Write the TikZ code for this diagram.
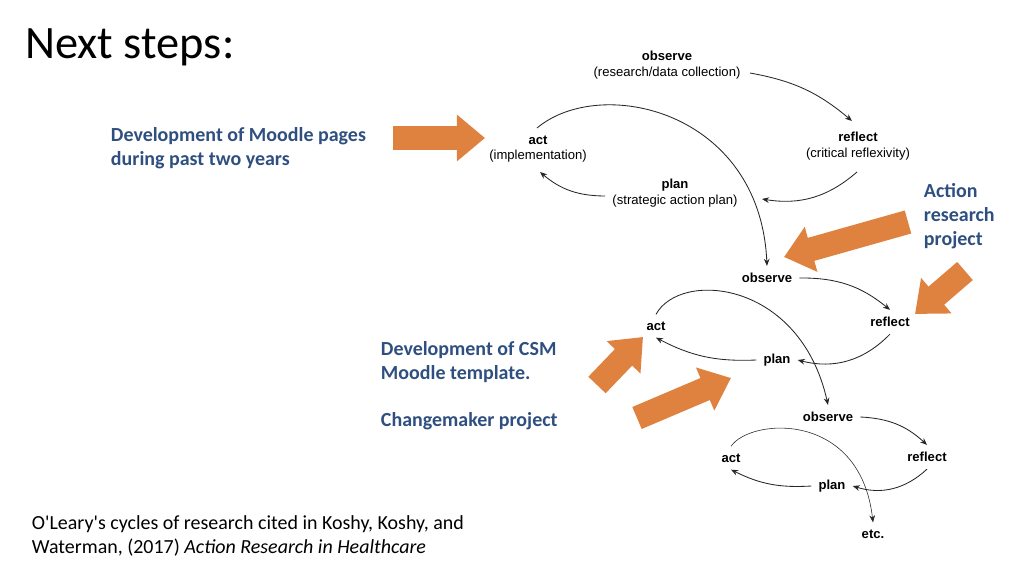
\documentclass[tikz,border=0pt]{standalone}
\usepackage{fontspec}
\setmainfont{Carlito}[Ligatures=TeXOff]
\newfontfamily\diag{Liberation Sans}
\usetikzlibrary{arrows.meta}
\definecolor{boxorange}{HTML}{E0823F}
\definecolor{noteblue}{HTML}{2E4F7F}
\begin{document}
\begin{tikzpicture}[x=0.025cm, y=-0.025cm,
    stage/.style={font=\diag\bfseries\fontsize{9.3}{10}\selectfont, inner sep=1pt, align=center},
    gap/.style={stage, inner sep=5pt},
    note/.style={font=\bfseries\fontsize{14.2}{17}\selectfont, text=noteblue, align=left, anchor=west},
    cyc/.style={-{Stealth[length=5pt,width=4pt]}, line width=0.6pt, black!85},
    big/.style={draw=boxorange, line width=17pt, -{Triangle[length=20pt,width=32pt]}}]
    \useasboundingbox (0,0) rectangle (1024,572);
    \node[anchor=west, inner sep=0pt, font=\fontsize{33}{36}\selectfont] (title) at (25,47) {Next steps:};

    % first cycle
    \node[stage] (obs1) at (667,65) {observe\\[1pt]{\mdseries(research/data collection)}};
    \node[stage] (act1) at (538,149) {act\\[1pt]{\mdseries(implementation)}};
    \node[stage] (ref1) at (858,146) {reflect\\[1pt]{\mdseries(critical reflexivity)}};
    \node[stage] (pln1) at (675,193) {plan\\[1pt]{\mdseries(strategic action plan)}};
    \coordinate (o1e) at (750,73); \coordinate (r1n) at (852,121);
    \coordinate (r1s) at (857,172); \coordinate (p1e) at (762,199);
    \coordinate (p1w) at (605,196); \coordinate (a1s) at (540,172);
    \coordinate (a1n) at (537,128);
    \draw[cyc] (o1e) to[bend left=15] (r1n);
    \draw[cyc] (r1s) to[bend left=25] (p1e);
    \draw[cyc] (p1w) to[bend left=20] (a1s);

    % second cycle
    \node[gap] (obs2) at (767,278) {observe};
    \node[gap] (act2) at (656,326) {act};
    \node[gap] (ref2) at (890,322) {reflect};
    \node[gap] (pln2) at (777,360) {plan};
    \draw[cyc] (a1n) .. controls (600,75) and (760,110) .. (obs2.north);
    \draw[cyc] (obs2.east) to[bend left=20] (ref2.north);
    \draw[cyc] (ref2.south) to[bend left=30] (pln2.east);
    \draw[cyc] (pln2.west) to[bend left=15] (act2.south);

    % third cycle
    \node[gap] (obs3) at (828,417) {observe};
    \node[gap] (act3) at (731,458) {act};
    \node[gap] (ref3) at (927,457) {reflect};
    \node[gap] (pln3) at (832,486) {plan};
    \node[gap] (etc) at (873,534) {etc.};
    \draw[cyc] (act2.north) .. controls (680,270) and (800,280) .. (obs3.north);
    \draw[cyc] (obs3.east) to[bend left=20] (ref3.north);
    \draw[cyc] (ref3.south) to[bend left=30] (pln3.east);
    \draw[cyc] (pln3.west) to[bend left=15] (act3.south);
    \draw[cyc, line width=0.4pt] (act3.north) .. controls (750,418) and (860,410) .. (etc.north);

    % notes
    \node[note] (moodle) at (106,148) {Development of Moodle pages\\during past two years};
    \node[note] (action) at (919,216) {Action\\research\\project};
    \node[note] (csm) at (376,362) {Development of CSM\\Moodle template.};
    \node[note] (change) at (376,421) {Changemaker project};
    \node[anchor=west, align=left, font=\fontsize{14.2}{17}\selectfont] (cite) at (27,536)
        {O'Leary's cycles of research cited in Koshy, Koshy, and\\Waterman, (2017) \textit{Action Research in Healthcare}};

    % orange arrows
    \coordinate (t1) at (393,138); \coordinate (h1) at (485,138);
    \coordinate (t2) at (908,222); \coordinate (h2) at (784,257);
    \coordinate (t3) at (965,271); \coordinate (h3) at (915,314);
    \coordinate (t4) at (597,385); \coordinate (h4) at (643,337);
    \coordinate (t5) at (637,418); \coordinate (h5) at (731,378);
    \foreach \a/\b in {t1/h1, t2/h2, t3/h3, t4/h4, t5/h5}
        \draw[big] (\a) -- (\b);
\end{tikzpicture}
\end{document}
